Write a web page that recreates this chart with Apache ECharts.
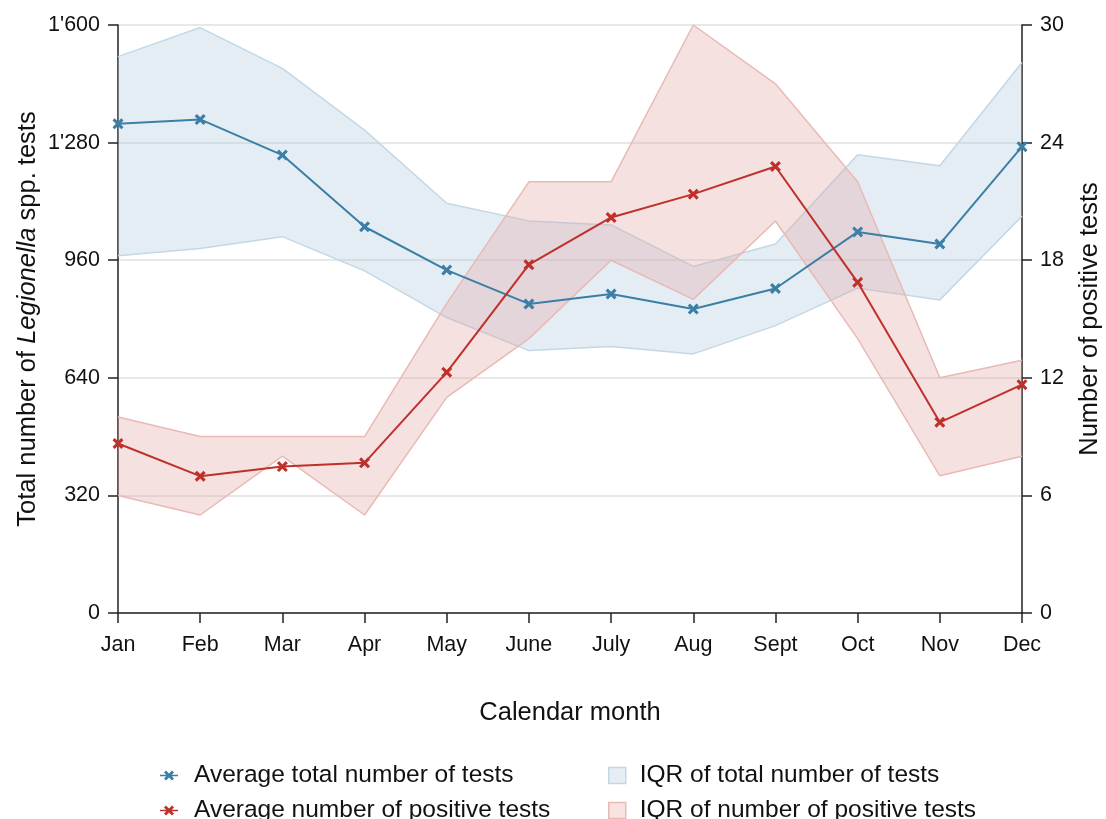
<!DOCTYPE html>
<html>
<head>
<meta charset="utf-8">
<script src="https://cdn.jsdelivr.net/npm/echarts@6/dist/echarts.min.js"></script>
<style>
  html, body { margin: 0; padding: 0; background: #fff; overflow: hidden; }
  #chart { width: 1106px; height: 819px; }
</style>
</head>
<body>
<div id="chart"></div>
<script>
// month categories
const months = ['Jan', 'Feb', 'Mar', 'Apr', 'May', 'June', 'July', 'Aug', 'Sept', 'Oct', 'Nov', 'Dec']

// total tests (left axis)
const totalAvg = [1331, 1343, 1246, 1051, 933, 841, 868, 827, 883, 1037, 1004, 1269]
const totalQ1 = [972, 992, 1024, 931, 804, 714, 725, 705, 782, 884, 852, 1080]
const totalQ3 = [1514, 1593, 1482, 1314, 1115, 1067, 1056, 943, 1004, 1247, 1217, 1498]

// positive tests (right axis)
const posAvg = [8.65, 6.98, 7.47, 7.66, 12.28, 17.77, 20.18, 21.37, 22.78, 16.87, 9.73, 11.65]
const posQ1 = [6, 5, 8, 5, 11, 14, 18, 16, 20, 14, 7, 8]
const posQ3 = [10, 9, 9, 9, 15.8, 22, 22, 30, 27, 22, 12, 12.9]

// tick settings
const leftMax = 1600
const leftStep = 320
const rightMax = 30
const rightStep = 6

const BLUE = '#3b7ea6'
const RED = '#c0302a'
const BLUE_FILL = 'rgba(172,198,222,0.32)'
const BLUE_EDGE = '#c3d8e5'
const RED_FILL = 'rgba(225,162,158,0.32)'
const RED_EDGE = '#e9b9b6'

const xMark = 'path://M0,2L2,0L5,3L8,0L10,2L7,5L10,8L8,10L5,7L2,10L0,8L3,5Z'
// legend key: short line with the x marker on it
const lineMark = 'path://M0,4.2L18,4.2L18,5.8L0,5.8Z M4,2L6,0L9,3L12,0L14,2L11,5L14,8L12,10L9,7L6,10L4,8L7,5Z'

const FONT = '"Liberation Sans", Arial, sans-serif'

function thousands(v) {
  if (v >= 1000) return Math.floor(v / 1000) + "'" + String(v % 1000).padStart(3, '0')
  return String(v)
}

// one legend per entry so the 2x2 layout is fixed
function legendItem(name, left, top, icon, style, w, h, gap) {
  return {
    left: left, top: top, itemWidth: w, itemHeight: h,
    textStyle: { fontSize: 24.5, fontFamily: FONT, color: '#111', padding: [0, 0, 0, gap] },
    data: [{ name: name, icon: icon, itemStyle: style }]
  }
}

const chart = echarts.init(document.getElementById('chart'))

chart.setOption({
  animation: false,
  textStyle: { fontFamily: FONT, color: '#111' },
  grid: { left: 118, right: 84, top: 25, bottom: 206, containLabel: false, outerBoundsMode: 'none' },
  legend: [
    legendItem('Average total number of tests', 155, 758, lineMark, { color: BLUE }, 18, 10, 11),
    legendItem('Average number of positive tests', 155, 793, lineMark, { color: RED }, 18, 10, 11),
    legendItem('IQR of total number of tests', 603, 758, 'rect', { color: '#e6eef5', borderColor: BLUE_EDGE, borderWidth: 1.5 }, 17, 16, 9),
    legendItem('IQR of number of positive tests', 603, 793, 'rect', { color: '#f6e3e2', borderColor: RED_EDGE, borderWidth: 1.5 }, 17, 16, 9)
  ],
  xAxis: {
    type: 'category',
    data: months,
    boundaryGap: false,
    name: 'Calendar month',
    nameLocation: 'middle',
    nameGap: 87,
    nameMoveOverlap: false,
    nameTextStyle: { fontSize: 25.5, color: '#111' },
    axisLine: { lineStyle: { color: '#222', width: 1.5 } },
    axisTick: { alignWithLabel: true, length: 10, lineStyle: { color: '#222', width: 1.5 } },
    axisLabel: { fontSize: 21.5, color: '#111', margin: 21 },
    splitLine: { show: false }
  },
  yAxis: [
    {
      type: 'value',
      min: 0, max: leftMax, interval: leftStep,
      name: '{a|Total number of }{i|Legionella}{a| spp. tests}',
      nameLocation: 'middle',
      nameGap: 77,
      nameMoveOverlap: false,
      nameTextStyle: {
        rich: {
          a: { fontSize: 25.5, color: '#111', fontFamily: FONT },
          i: { fontSize: 25.5, color: '#111', fontFamily: FONT, fontStyle: 'italic' }
        }
      },
      axisLine: { show: true, lineStyle: { color: '#222', width: 1.5 } },
      axisTick: { show: true, length: 10, lineStyle: { color: '#222', width: 1.5 } },
      axisLabel: { fontSize: 21.5, color: '#111', margin: 18, formatter: thousands },
      splitLine: { show: true, lineStyle: { color: '#e8e8e8', width: 2 } }
    },
    {
      type: 'value',
      min: 0, max: rightMax, interval: rightStep,
      position: 'right',
      name: 'Number of positive tests',
      nameLocation: 'middle',
      nameGap: 55,
      nameMoveOverlap: false,
      nameTextStyle: { fontSize: 25.5, color: '#111' },
      axisLine: { show: true, lineStyle: { color: '#222', width: 1.5 } },
      axisTick: { show: true, length: 10, lineStyle: { color: '#222', width: 1.5 } },
      axisLabel: { fontSize: 21.5, color: '#111', margin: 18 },
      splitLine: { show: false }
    }
  ],
  series: [
    {
      name: 'totalLow', type: 'line', stack: 'blueBand', yAxisIndex: 0,
      data: totalQ1, symbol: 'none', silent: true, z: 1,
      lineStyle: { color: BLUE_EDGE, width: 1.5 }
    },
    {
      name: 'IQR of total number of tests', type: 'line', stack: 'blueBand', yAxisIndex: 0,
      data: totalQ3.map((v, i) => v - totalQ1[i]), symbol: 'none', silent: true, z: 1,
      lineStyle: { color: BLUE_EDGE, width: 1.5 },
      itemStyle: { color: '#e6eef5' },
      areaStyle: { color: BLUE_FILL, opacity: 1 }
    },
    {
      name: 'posLow', type: 'line', stack: 'redBand', yAxisIndex: 1,
      data: posQ1, symbol: 'none', silent: true, z: 2,
      lineStyle: { color: RED_EDGE, width: 1.5 }
    },
    {
      name: 'IQR of number of positive tests', type: 'line', stack: 'redBand', yAxisIndex: 1,
      data: posQ3.map((v, i) => v - posQ1[i]), symbol: 'none', silent: true, z: 2,
      lineStyle: { color: RED_EDGE, width: 1.5 },
      itemStyle: { color: '#f6e3e2' },
      areaStyle: { color: RED_FILL, opacity: 1 }
    },
    {
      name: 'Average total number of tests', type: 'line', yAxisIndex: 0,
      data: totalAvg, symbol: xMark, symbolSize: 11, showAllSymbol: true, z: 3,
      lineStyle: { color: BLUE, width: 2 },
      itemStyle: { color: BLUE }
    },
    {
      name: 'Average number of positive tests', type: 'line', yAxisIndex: 1,
      data: posAvg, symbol: xMark, symbolSize: 11, showAllSymbol: true, z: 4,
      lineStyle: { color: RED, width: 2 },
      itemStyle: { color: RED }
    }
  ]
})
</script>
</body>
</html>
